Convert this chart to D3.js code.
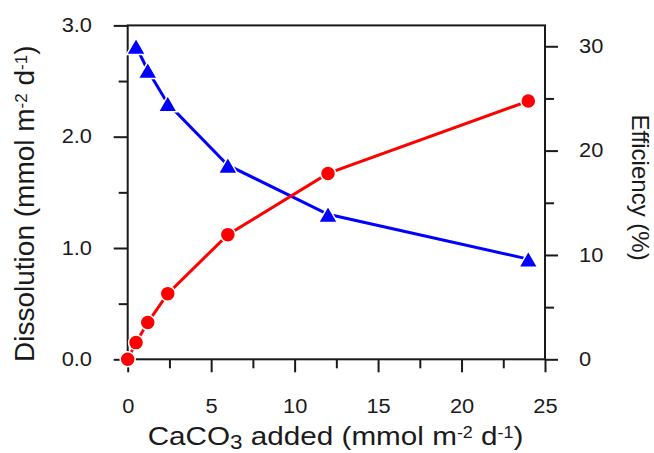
<!DOCTYPE html>
<html>
<head>
<meta charset="utf-8">
<script src="https://cdn.jsdelivr.net/npm/d3@7"></script>
<style>
  body { margin: 0; background: #fff; }
  svg { display: block; font-family: "Liberation Sans", Arial, sans-serif; }
</style>
</head>
<body>
<svg id="chart" width="654" height="453"></svg>
<script>
// data
const addedDissolution = [0, 0.5, 1.2, 2.4, 6, 12, 24];
const dissolution = [0.0, 0.15, 0.33, 0.59, 1.12, 1.67, 2.32];
const addedEfficiency = [0.5, 1.2, 2.4, 6, 12, 24];
const efficiency = [30.0, 27.7, 24.5, 18.6, 13.9, 9.6];

const xMajor = [0, 5, 10, 15, 20, 25];
const xMinor = [2.5, 7.5, 12.5, 17.5, 22.5];
const yLeftMajor = [0, 1, 2, 3];
const yLeftMinor = [0.5, 1.5, 2.5];
const yRightMajor = [0, 10, 20, 30];
const yRightMinor = [5, 15, 25];

const svg = d3.select("#chart");
const ink = "#1a1a1a";
const stretch = 1.12; // the original lettering is a bit wider than Arial

// plot box
const box = { left: 127.7, right: 545, top: 25.4, bottom: 359.3 };

const x = d3.scaleLinear().domain([0, 25]).range([box.left, box.right]);
const yL = d3.scaleLinear().domain([0, 3]).range([box.bottom, box.top]);
const yR = d3.scaleLinear().domain([0, 32]).range([box.bottom, box.top]);

// axes (major + minor ticks)
function styleAxis(g) {
    g.select(".domain").remove();
    g.selectAll("line").attr("stroke", ink).attr("stroke-width", 2);
    g.selectAll("text")
        .attr("fill", ink)
        .style("font-size", "19.5px")
        .style("font-family", "'Liberation Sans', Arial, sans-serif")
        .attr("x", function() { return +d3.select(this).attr("x") / stretch; })
        .attr("transform", `scale(${stretch},1)`);
}

svg.append("g").attr("transform", `translate(0,${box.bottom})`)
    .call(d3.axisBottom(x).tickValues(xMajor).tickFormat(d3.format("d")).tickSize(13).tickPadding(27))
    .call(styleAxis);
svg.append("g").attr("transform", `translate(0,${box.bottom})`)
    .call(d3.axisBottom(x).tickValues(xMinor).tickFormat("").tickSize(9))
    .call(styleAxis);

svg.append("g").attr("transform", `translate(${box.left},0)`)
    .call(d3.axisLeft(yL).tickValues(yLeftMajor).tickFormat(d3.format(".1f")).tickSize(14).tickPadding(21.7))
    .call(styleAxis);
svg.append("g").attr("transform", `translate(${box.left},0)`)
    .call(d3.axisLeft(yL).tickValues(yLeftMinor).tickFormat("").tickSize(9))
    .call(styleAxis);

svg.append("g").attr("transform", `translate(${box.right},0)`)
    .call(d3.axisRight(yR).tickValues(yRightMajor).tickFormat(d3.format("d")).tickSize(13).tickPadding(21))
    .call(styleAxis);
svg.append("g").attr("transform", `translate(${box.right},0)`)
    .call(d3.axisRight(yR).tickValues(yRightMinor).tickFormat("").tickSize(9))
    .call(styleAxis);

// frame
svg.append("rect")
    .attr("x", box.left).attr("y", box.top)
    .attr("width", box.right - box.left).attr("height", box.bottom - box.top)
    .attr("fill", "none").attr("stroke", ink).attr("stroke-width", 2);

// series
const redPts = addedDissolution.map((d, i) => [d, dissolution[i]]);
const bluePts = addedEfficiency.map((d, i) => [d, efficiency[i]]);

svg.append("path")
    .datum(bluePts)
    .attr("d", d3.line().x(d => x(d[0])).y(d => yR(d[1])))
    .attr("fill", "none").attr("stroke", "#0000ff").attr("stroke-width", 3);

svg.append("path")
    .datum(redPts)
    .attr("d", d3.line().x(d => x(d[0])).y(d => yL(d[1])))
    .attr("fill", "none").attr("stroke", "#ff0000").attr("stroke-width", 3);

// triangle centred on its bounding box, like the original markers
const boxTriangle = {
    draw(context, size) {
        const s = Math.sqrt(size * 4 / Math.sqrt(3));
        const h = s * Math.sqrt(3) / 2;
        context.moveTo(0, -h / 2);
        context.lineTo(s / 2, h / 2);
        context.lineTo(-s / 2, h / 2);
        context.closePath();
    }
};
const tri = d3.symbol().type(boxTriangle).size(155);
svg.selectAll(".tri").data(bluePts).enter()
    .append("path")
    .attr("class", "tri")
    .attr("d", tri)
    .attr("transform", d => `translate(${x(d[0])},${yR(d[1])})`)
    .attr("fill", "#0000ff").attr("stroke", "#fff").attr("stroke-width", 1.5);

svg.selectAll(".dot").data(redPts).enter()
    .append("circle")
    .attr("class", "dot")
    .attr("cx", d => x(d[0])).attr("cy", d => yL(d[1]))
    .attr("r", 7.5)
    .attr("fill", "#ff0000").attr("stroke", "#fff").attr("stroke-width", 1.5);

// axis titles
const xt = svg.append("text")
    .attr("transform", `translate(335.5,444.5) scale(${stretch},1)`)
    .attr("text-anchor", "middle").attr("fill", ink)
    .style("font-size", "26.5px");
xt.append("tspan").text("CaCO");
xt.append("tspan").attr("dy", 4).style("font-size", "20px").text("3");
xt.append("tspan").attr("dy", -4).text(" added (mmol m");
xt.append("tspan").attr("dy", -7).style("font-size", "16px").text("-2");
xt.append("tspan").attr("dy", 7).text(" d");
xt.append("tspan").attr("dy", -7).style("font-size", "16px").text("-1");
xt.append("tspan").attr("dy", 7).text(")");

const lt = svg.append("text")
    .attr("transform", "translate(34,362) rotate(-90)")
    .attr("text-anchor", "start").attr("fill", ink)
    .style("font-size", "28px");
lt.append("tspan").text("Dissolution (mmol m");
lt.append("tspan").attr("dy", -7.5).style("font-size", "17px").text("-2");
lt.append("tspan").attr("dy", 7.5).text(" d");
lt.append("tspan").attr("dy", -7.5).style("font-size", "17px").text("-1");
lt.append("tspan").attr("dy", 7.5).text(")");

svg.append("text")
    .attr("transform", "translate(632,187.5) rotate(90)")
    .attr("text-anchor", "middle").attr("fill", ink)
    .style("font-size", "24px")
    .text("Efficiency (%)");
</script>
</body>
</html>
